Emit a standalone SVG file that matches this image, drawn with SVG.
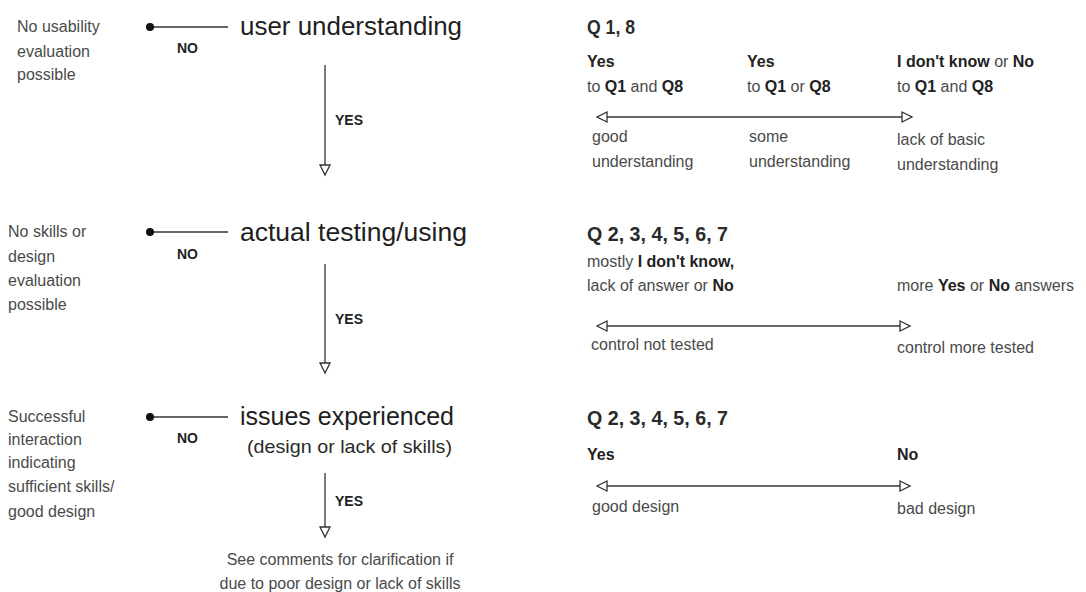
<svg xmlns="http://www.w3.org/2000/svg" width="1086" height="592" viewBox="0 0 1086 592">
<style>
text{font-family:"Liberation Sans",Arial,sans-serif;}
.t{font-size:16px;fill:#4a4a4a;}
.h{font-size:26px;fill:#1e1e1e;}
.q{font-size:21px;font-weight:bold;fill:#2a2a2a;}
.lb{font-size:14px;font-weight:bold;fill:#222;}
.b{font-weight:bold;fill:#222;}
.ln{stroke:#333;stroke-width:1.3;fill:none;}
</style>
<defs>
<marker id="ah" markerUnits="userSpaceOnUse" markerWidth="14" markerHeight="14" refX="11" refY="6" orient="auto-start-reverse" viewBox="0 0 14 12">
<path d="M1,1 L11,6 L1,11 Z" fill="#fff" stroke="#333" stroke-width="1.3"/>
</marker>
</defs>

<g id="connectors">
<line class="ln" x1="150" y1="27" x2="228" y2="27"/>
<circle cx="150" cy="27" r="4" fill="#111"/>
<line class="ln" x1="325" y1="65" x2="325" y2="175" marker-end="url(#ah)"/>
<line class="ln" x1="150" y1="232" x2="228" y2="232"/>
<circle cx="150" cy="232" r="4" fill="#111"/>
<line class="ln" x1="325" y1="264" x2="325" y2="373" marker-end="url(#ah)"/>
<line class="ln" x1="150" y1="417" x2="228" y2="417"/>
<circle cx="150" cy="417" r="4" fill="#111"/>
<line class="ln" x1="325" y1="473" x2="325" y2="537" marker-end="url(#ah)"/>
<line class="ln" x1="597" y1="117" x2="912" y2="117" marker-start="url(#ah)" marker-end="url(#ah)"/>
<line class="ln" x1="597" y1="326" x2="910" y2="326" marker-start="url(#ah)" marker-end="url(#ah)"/>
<line class="ln" x1="597" y1="486" x2="910" y2="486" marker-start="url(#ah)" marker-end="url(#ah)"/>
<text class="lb" x="177" y="53">NO</text>
<text class="lb" x="335" y="125">YES</text>
<text class="lb" x="177" y="259">NO</text>
<text class="lb" x="335" y="324">YES</text>
<text class="lb" x="177" y="443">NO</text>
<text class="lb" x="335" y="506">YES</text>
</g>

<g id="node-user-understanding">
<text class="h" x="240" y="35" textLength="222" lengthAdjust="spacingAndGlyphs">user understanding</text>
</g>
<g id="node-no-usability">
<text class="t" x="17" y="32">No usability</text>
<text class="t" x="17" y="57">evaluation</text>
<text class="t" x="17" y="80">possible</text>
</g>

<g id="node-actual-testing">
<text class="h" x="240" y="241" textLength="227" lengthAdjust="spacingAndGlyphs">actual testing/using</text>
</g>
<g id="node-no-skills">
<text class="t" x="8" y="237">No skills or</text>
<text class="t" x="8" y="262">design</text>
<text class="t" x="8" y="286">evaluation</text>
<text class="t" x="8" y="310">possible</text>
</g>

<g id="node-issues">
<text class="h" x="240" y="425" textLength="214" lengthAdjust="spacingAndGlyphs">issues experienced</text>
<text x="247" y="453" style="font-size:19px;fill:#2a2a2a" textLength="205" lengthAdjust="spacingAndGlyphs">(design or lack of skills)</text>
</g>
<g id="node-successful">
<text class="t" x="8" y="422">Successful</text>
<text class="t" x="8" y="445">interaction</text>
<text class="t" x="8" y="468">indicating</text>
<text class="t" x="8" y="492">sufficient skills/</text>
<text class="t" x="8" y="517">good design</text>
</g>
<g id="node-see-comments">
<text class="t" x="340" y="565" text-anchor="middle">See comments for clarification if</text>
<text class="t" x="340" y="589" text-anchor="middle">due to poor design or lack of skills</text>
</g>

<g id="scale-q18">
<text class="q" x="587" y="34" textLength="48" lengthAdjust="spacingAndGlyphs">Q 1, 8</text>
<text class="t" x="587" y="67"><tspan class="b">Yes</tspan></text>
<text class="t" x="587" y="92">to <tspan class="b">Q1</tspan> and <tspan class="b">Q8</tspan></text>
<text class="t" x="747" y="67"><tspan class="b">Yes</tspan></text>
<text class="t" x="747" y="92">to <tspan class="b">Q1</tspan> or <tspan class="b">Q8</tspan></text>
<text class="t" x="897" y="67"><tspan class="b">I don't know</tspan> or <tspan class="b">No</tspan></text>
<text class="t" x="897" y="92">to <tspan class="b">Q1</tspan> and <tspan class="b">Q8</tspan></text>
<text class="t" x="592" y="142">good</text>
<text class="t" x="592" y="167">understanding</text>
<text class="t" x="749" y="142">some</text>
<text class="t" x="749" y="167">understanding</text>
<text class="t" x="897" y="145">lack of basic</text>
<text class="t" x="897" y="170">understanding</text>
</g>

<g id="scale-q2-7-testing">
<text class="q" x="587" y="241" textLength="141" lengthAdjust="spacingAndGlyphs">Q 2, 3, 4, 5, 6, 7</text>
<text class="t" x="587" y="267">mostly <tspan class="b">I don't know,</tspan></text>
<text class="t" x="587" y="291">lack of answer or <tspan class="b">No</tspan></text>
<text class="t" x="897" y="291">more <tspan class="b">Yes</tspan> or <tspan class="b">No</tspan> answers</text>
<text class="t" x="591" y="350">control not tested</text>
<text class="t" x="897" y="353">control more tested</text>
</g>

<g id="scale-q2-7-design">
<text class="q" x="587" y="425" textLength="141" lengthAdjust="spacingAndGlyphs">Q 2, 3, 4, 5, 6, 7</text>
<text class="t" x="587" y="460"><tspan class="b">Yes</tspan></text>
<text class="t" x="897" y="460"><tspan class="b">No</tspan></text>
<text class="t" x="592" y="512">good design</text>
<text class="t" x="897" y="514">bad design</text>
</g>
</svg>
